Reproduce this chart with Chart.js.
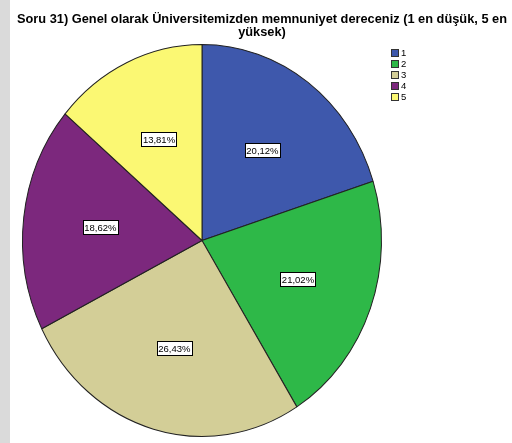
<!DOCTYPE html>
<html>
<head>
<meta charset="utf-8">
<script src="https://cdn.jsdelivr.net/npm/chart.js@4.4.0/dist/chart.umd.min.js"></script>
<style>
  html, body { margin: 0; padding: 0; background: #fff; }
  #wrap { width: 512px; height: 443px; }
</style>
</head>
<body>
<div id="wrap"><canvas id="chart"></canvas></div>
<script>
const titleLines = ['Soru 31) Genel olarak Üniversitemizden memnuniyet dereceniz (1 en düşük, 5 en', 'yüksek)'];
const categories = ['1', '2', '3', '4', '5'];
const percents = [20.12, 21.02, 26.43, 18.62, 13.81];
const colors = ['#3E58AC', '#2EB848', '#D3CE97', '#7C287D', '#FBF873'];

const stretchY = 196.5 / 180; // reference pie is slightly taller than wide

const fmt = v => v.toFixed(2).replace('.', ',') + '%';

const decor = {
  id: 'decor',
  beforeDraw(chart) {
    const ctx = chart.ctx;
    ctx.save();
    ctx.fillStyle = '#DADADA';
    ctx.fillRect(0, 0, 10, chart.height);
    ctx.restore();
  },
  beforeDatasetsDraw(chart) {
    const arc = chart.getDatasetMeta(0).data[0];
    const ctx = chart.ctx;
    ctx.save();
    ctx.translate(0, arc.y);
    ctx.scale(1, stretchY);
    ctx.translate(0, -arc.y);
  },
  afterDatasetsDraw(chart) {
    chart.ctx.restore();
  },
  afterDraw(chart) {
    const ctx = chart.ctx;
    ctx.save();
    // title
    ctx.fillStyle = '#000';
    ctx.font = 'bold 12.8px "Liberation Sans", Arial, sans-serif';
    ctx.textAlign = 'center';
    ctx.textBaseline = 'middle';
    titleLines.forEach((t, i) => ctx.fillText(t, 262, 19 + i * 13));

    // legend
    ctx.font = '9.5px "Liberation Sans", Arial, sans-serif';
    ctx.textAlign = 'left';
    categories.forEach((c, i) => {
      const y = 49 + i * 11;
      ctx.fillStyle = colors[i];
      ctx.fillRect(391, y, 7, 7);
      ctx.strokeStyle = '#333';
      ctx.lineWidth = 1;
      ctx.strokeRect(391.5, y + 0.5, 7, 7);
      ctx.fillStyle = '#000';
      ctx.fillText(c, 401, y + 4);
    });

    // slice labels
    const meta = chart.getDatasetMeta(0);
    ctx.font = '9.5px "Liberation Sans", Arial, sans-serif';
    ctx.textAlign = 'center';
    meta.data.forEach((a, i) => {
      const mid = (a.startAngle + a.endAngle) / 2;
      const r = a.outerRadius * 0.57;
      const x = a.x + Math.cos(mid) * r;
      const y = a.y + Math.sin(mid) * r * stretchY;
      const txt = fmt(percents[i]);
      const w = ctx.measureText(txt).width + 3;
      const h = 14;
      ctx.fillStyle = '#fff';
      ctx.fillRect(Math.round(x - w / 2), Math.round(y - h / 2), Math.round(w), h);
      ctx.strokeStyle = '#000';
      ctx.strokeRect(Math.round(x - w / 2) + 0.5, Math.round(y - h / 2) + 0.5, Math.round(w), h);
      ctx.fillStyle = '#000';
      ctx.fillText(txt, x, y + 1);
    });
    ctx.restore();
  }
};

new Chart(document.getElementById('chart'), {
  type: 'pie',
  data: {
    labels: categories,
    datasets: [{
      data: percents,
      backgroundColor: colors,
      borderColor: '#222',
      borderWidth: 1
    }]
  },
  options: {
    responsive: true,
    maintainAspectRatio: false,
    animation: false,
    events: [],
    layout: { padding: { left: 22, right: 130, top: 60, bottom: 22 } },
    plugins: {
      legend: { display: false },
      title: { display: false },
      tooltip: { enabled: false }
    }
  },
  plugins: [decor]
});
</script>
</body>
</html>
